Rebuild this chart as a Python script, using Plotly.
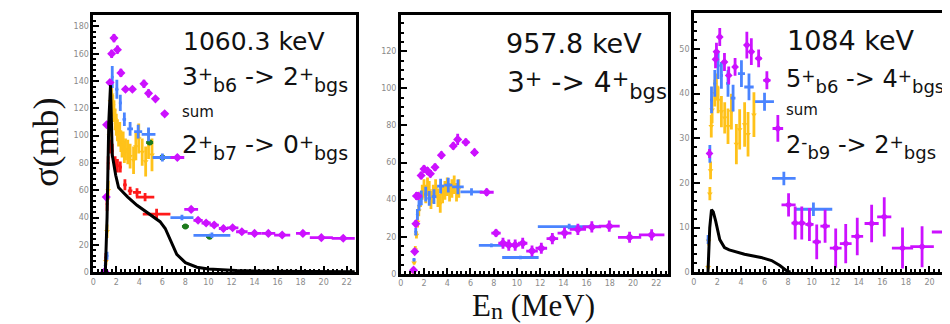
import plotly.graph_objects as go

W, H = 950, 324

# ---------------- Panel 1 : 1060.3 keV ----------------
p1_sum_x = [1.0, 1.13, 1.16, 1.45, 1.6, 1.8, 2.1, 2.4, 2.8, 3.4, 4.4, 4.8, 5.4, 6.2, 7.3, 8.5, 9.1, 9.8, 10.5, 11.3, 12.1, 12.9, 14.0, 15.2, 16.4, 18.2, 19.8, 21.7]
p1_sum_y = [0.5, 55, 108, 139, 160, 171.5, 163, 146, 134, 134, 138, 131, 127, 116, 84, 46, 38, 36, 34.5, 32, 32.5, 29.6, 28.4, 28.4, 27.2, 28.4, 25.3, 24.8]
p1_sum_xe = [0.02, 0.02, 0.02, 0.05, 0.05, 0.05, 0.1, 0.1, 0.15, 0.2, 0.15, 0.15, 0.2, 0.3, 0.6, 0.6, 0.4, 0.4, 0.4, 0.4, 0.5, 0.5, 0.6, 0.6, 0.7, 0.6, 1.0, 1.0]
p1_sum_ye = [1, 2, 2, 2, 3, 3, 3, 3, 2, 2, 3, 3, 2, 2, 2, 2, 2, 2, 2, 2, 2, 2, 2, 2, 2, 2, 2, 2]

p1_red_x = [1.1, 1.2, 1.3, 1.45, 1.65, 1.9, 2.1, 2.35, 2.75, 3.2, 3.8, 4.5, 5.5]
p1_red_y = [11, 50, 80, 92, 89, 80, 78, 77, 64, 59.5, 58.5, 55, 42.5]
p1_red_xe = [0.03, 0.03, 0.03, 0.05, 0.05, 0.08, 0.1, 0.12, 0.15, 0.2, 0.35, 0.8, 1.2]
p1_red_ye = [3, 5, 5, 5, 5, 5, 5, 4, 4, 3, 3, 3, 4]

p1_blue_x = [1.05, 1.2, 1.65, 2.05, 2.35, 2.7, 3.2, 3.9, 4.8, 6.0, 7.7, 10.3]
p1_blue_y = [5, 12, 143, 134, 124, 112, 105, 103, 101, 84, 40, 27]
p1_blue_xe = [0.02, 0.02, 0.08, 0.12, 0.12, 0.15, 0.25, 0.35, 0.6, 0.85, 1.0, 1.6]
p1_blue_ye = [2, 3, 8, 7, 6, 5, 5, 5, 5, 3, 2, 2]

p1_yel_x = [1.1, 1.2, 1.3, 1.4, 1.5, 1.6, 1.7, 1.8, 1.9, 2.0, 2.1, 2.2, 2.3, 2.4, 2.5, 2.6, 2.7, 2.8, 3.0, 3.2, 3.5, 3.7, 3.95, 4.25, 4.55, 4.8, 5.1]
p1_yel_y = [8, 30, 60, 100, 125, 130, 122, 118, 112, 108, 104, 100, 102, 96, 92, 95, 88, 90, 88, 85, 82, 92, 98, 88, 81, 94, 86]
p1_yel_ye = [3, 5, 7, 8, 8, 8, 8, 8, 8, 8, 8, 8, 8, 8, 8, 8, 8, 8, 9, 9, 10, 10, 11, 10, 11, 11, 12]

p1_grn_x = [4.9, 6.0, 8.0, 10.1]
p1_grn_y = [95, 84, 33.5, 26]

p1_line_x = [1.0, 1.05, 1.2, 1.35, 1.5, 1.65, 1.95, 2.2, 2.65, 3.0, 3.8, 5.0, 5.8, 6.25, 6.7, 7.25, 8.0, 9.0, 10.0, 12.4, 15.3, 22.7]
p1_line_y = [0, 0, 40, 110, 137, 86, 71, 62, 58, 55, 49, 42, 37, 32, 23, 13, 7, 3.6, 2.4, 1.2, 0.7, 0.3]

# ---------------- Panel 2 : 957.8 keV ----------------
p2_sum_x = [1.1, 1.2, 1.3, 1.35, 1.5, 1.75, 2.0, 2.3, 2.55, 2.95, 3.5, 4.52, 4.9, 5.6, 6.35, 7.4, 8.2, 8.8, 9.3, 9.85, 10.5, 11.3, 12.1, 13.05, 14.1, 15.25, 16.45, 17.95, 19.7, 21.6]
p2_sum_y = [2, 12, 27, 42, 42, 53, 56.5, 55.5, 54, 57.5, 64, 69, 72.5, 71, 65.5, 44, 22, 16.5, 15.5, 15.5, 16.5, 12.3, 13.8, 19, 22, 24, 25.3, 25.7, 19.7, 21]
p2_sum_xe = [0.02, 0.02, 0.02, 0.02, 0.05, 0.05, 0.1, 0.1, 0.1, 0.15, 0.2, 0.15, 0.15, 0.3, 0.3, 0.6, 0.4, 0.4, 0.4, 0.4, 0.4, 0.5, 0.5, 0.5, 0.6, 0.7, 0.8, 0.9, 1.0, 1.1]
p2_sum_ye = [1, 1, 2, 2, 2, 2, 2, 2, 2, 2, 2, 2, 3, 2, 2, 2, 2, 3, 3, 3, 3, 3, 3, 3, 3, 3, 3, 3, 3, 3]

p2_blue_x = [1.14, 1.29, 1.43, 1.57, 1.77, 2.15, 2.45, 2.86, 3.43, 4.09, 4.92, 6.09, 7.8, 10.3, 14.5]
p2_blue_y = [7.6, 22.7, 32, 37, 41, 43, 40.7, 41.6, 47.3, 47.8, 46.9, 44.2, 15.4, 8.8, 25.5]
p2_blue_xe = [0.02, 0.02, 0.03, 0.05, 0.08, 0.12, 0.15, 0.2, 0.3, 0.35, 0.5, 0.95, 1.08, 1.57, 2.7]
p2_blue_ye = [1, 2, 3, 3, 4, 4, 4, 4, 4, 4, 4, 2, 1, 1, 1.5]

p2_yel_x = [1.05, 1.15, 1.25, 1.35, 1.45, 1.55, 1.7, 1.85, 2.0, 2.15, 2.3, 2.45, 2.6, 2.8, 3.0, 3.2, 3.4, 3.6, 3.8, 4.0, 4.2, 4.4, 4.6, 4.8, 5.0]
p2_yel_y = [1, 6, 13, 21, 28, 34, 40, 44, 46, 43, 47, 45, 40, 43, 46, 41, 38, 43, 45, 47, 44, 46, 48, 44, 46]
p2_yel_ye = [1, 1, 2, 2, 3, 3, 4, 4, 5, 5, 5, 5, 5, 5, 5, 5, 5, 5, 5, 5, 5, 5, 5, 5, 5]

# ---------------- Panel 3 : 1084 keV ----------------
p3_sum_x = [1.33, 1.84, 1.92, 2.2, 2.6, 2.96, 3.5, 4.5, 4.88, 5.5, 6.2, 7.13, 8.04, 8.6, 9.16, 9.81, 10.43, 11.14, 12.04, 12.89, 13.87, 15.09, 16.16, 17.71, 19.37, 21.3]
p3_sum_y = [26.6, 47.7, 49.4, 52.7, 47.1, 44.1, 46, 50.9, 49.4, 47.9, 43, 32.2, 15.1, 11, 11, 10.7, 6.8, 10.3, 5.4, 6.4, 8.0, 10.9, 12.4, 5.4, 5.7, 9.0]
p3_sum_xe = [0.02, 0.05, 0.05, 0.08, 0.1, 0.1, 0.15, 0.15, 0.15, 0.25, 0.3, 0.45, 0.6, 0.3, 0.3, 0.35, 0.35, 0.4, 0.5, 0.5, 0.5, 0.6, 0.6, 0.9, 1.0, 1.1]
p3_sum_ye = [1, 2, 2, 2, 2, 2, 2, 3, 3, 2, 2, 3, 2.6, 3.7, 3.7, 3.7, 3.9, 3.7, 4.4, 4.4, 4.2, 4.2, 4.4, 4.6, 4.6, 4.3]

p3_blue_x = [1.21, 1.36, 1.5, 1.78, 2.06, 2.34, 2.9, 3.33, 4.04, 4.68, 6.0, 7.64, 10.15]
p3_blue_y = [7.3, 26.5, 38.6, 42.3, 46.3, 44.1, 42.3, 39, 44.5, 41.5, 38.2, 21, 14.1]
p3_blue_xe = [0.02, 0.03, 0.05, 0.08, 0.1, 0.12, 0.15, 0.2, 0.3, 0.4, 0.8, 1.0, 1.6]
p3_blue_ye = [1, 2, 3, 3, 3, 3, 3, 3, 3, 3, 2, 1.5, 1.5]

p3_yel_x = [1.21, 1.25, 1.36, 1.42, 1.48, 1.55, 1.78, 1.92, 2.06, 2.34, 2.62, 2.9, 3.19, 3.61, 3.89, 4.31, 4.6, 5.1]
p3_yel_y = [1.1, 7, 17.6, 22.8, 32.7, 36.4, 40.1, 41.5, 38.6, 36, 34.6, 32.7, 36, 28.7, 32, 33.1, 30.9, 35.3]
p3_yel_ye = [0.5, 1, 1.5, 2, 2.5, 3, 3, 3, 3, 3.5, 3.5, 4, 4, 4.5, 4.5, 5, 5, 5]

p3_line_x = [1.2, 1.22, 1.35, 1.5, 1.65, 1.85, 2.2, 2.6, 3.0, 4.3, 5.7, 6.6, 7.3, 7.9, 8.2]
p3_line_y = [0, 2, 10, 14, 13.5, 11.5, 7.3, 5.5, 5.0, 4.0, 3.3, 2.6, 1.5, 0.3, 0]

MAG, BLU, YEL, RED, GRN = '#cc11ff', '#4a84ff', '#ffc21a', '#ff1a1a', '#1d7a1d'


def pts(x, y, xe, ye, color, ax, symbol='circle', size=4, th=2.8):
    return go.Scatter(
        x=x, y=y, mode='markers', xaxis='x' + ax, yaxis='y' + ax,
        marker=dict(color=color, symbol=symbol, size=size, line=dict(width=0)),
        error_x=dict(type='data', array=xe, color=color, thickness=th, width=0),
        error_y=dict(type='data', array=ye, color=color, thickness=th, width=0),
        showlegend=False, hoverinfo='skip')


def small(n, v=0.03):
    return [v] * n


fig = go.Figure()
# panel 1
fig.add_trace(pts(p1_yel_x, p1_yel_y, small(len(p1_yel_x)), p1_yel_ye, YEL, '', 'triangle-down', 5))
fig.add_trace(pts(p1_red_x, p1_red_y, p1_red_xe, p1_red_ye, RED, '', 'circle', 3))
fig.add_trace(pts(p1_grn_x, p1_grn_y, small(len(p1_grn_x), 0.3), small(len(p1_grn_x), 1), GRN, '', 'circle', 6))
fig.add_trace(pts(p1_blue_x, p1_blue_y, p1_blue_xe, p1_blue_ye, BLU, '', 'circle', 3))
fig.add_trace(pts(p1_sum_x, p1_sum_y, p1_sum_xe, p1_sum_ye, MAG, '', 'diamond', 7))
fig.add_trace(go.Scatter(x=p1_line_x, y=p1_line_y, mode='lines', xaxis='x', yaxis='y',
                         line=dict(color='black', width=3), showlegend=False, hoverinfo='skip'))
# panel 2
fig.add_trace(pts(p2_yel_x, p2_yel_y, small(len(p2_yel_x)), p2_yel_ye, YEL, '2', 'triangle-down', 5))
fig.add_trace(pts(p2_blue_x, p2_blue_y, p2_blue_xe, p2_blue_ye, BLU, '2', 'circle', 3))
fig.add_trace(pts(p2_sum_x, p2_sum_y, p2_sum_xe, p2_sum_ye, MAG, '2', 'diamond', 7))
# panel 3
fig.add_trace(pts(p3_yel_x, p3_yel_y, small(len(p3_yel_x)), p3_yel_ye, YEL, '3', 'triangle-down', 5))
fig.add_trace(pts(p3_blue_x, p3_blue_y, p3_blue_xe, p3_blue_ye, BLU, '3', 'circle', 3))
fig.add_trace(pts(p3_sum_x, p3_sum_y, p3_sum_xe, p3_sum_ye, MAG, '3', 'diamond', 6))
fig.add_trace(go.Scatter(x=p3_line_x, y=p3_line_y, mode='lines', xaxis='x3', yaxis='y3',
                         line=dict(color='black', width=3), showlegend=False, hoverinfo='skip'))

tickfont = dict(family='DejaVu Sans', size=8, color='#8a8a8a')


def xax(dom, rng, anchor):
    return dict(domain=dom, range=rng, anchor=anchor, showgrid=False, zeroline=False,
                showline=True, linecolor='black', linewidth=2.5, mirror=True,
                ticks='inside', ticklen=6, tickwidth=1.5, tickcolor='black',
                tick0=0, dtick=2, tickfont=tickfont,
                minor=dict(ticks='inside', ticklen=3, tickwidth=1.5, tickcolor='black', dtick=0.4))


def yax(dom, rng, anchor, dt, mdt, mirror=True):
    return dict(domain=dom, range=rng, anchor=anchor, showgrid=False, zeroline=False,
                showline=True, linecolor='black', linewidth=2.5, mirror=mirror,
                ticks='inside', ticklen=6, tickwidth=1.5, tickcolor='black',
                tick0=0, dtick=dt, tickfont=tickfont,
                minor=dict(ticks='inside', ticklen=3, tickwidth=1.5, tickcolor='black', dtick=mdt))


def px(x):
    return x / W


def py(y):
    return 1 - y / H


fig.update_layout(
    width=W, height=H, margin=dict(l=0, r=0, t=0, b=0),
    paper_bgcolor='white', plot_bgcolor='white',
    xaxis=xax([px(82.5), px(346)], [0, 22.8], 'y'),
    yaxis=yax([py(268.3), py(7)], [0, 188.5], 'x', 20, 4),
    xaxis2=xax([px(391), px(659)], [0, 23.0], 'y2'),
    yaxis2=yax([py(270), py(6.7)], [0, 139.8], 'x2', 20, 5),
    xaxis3=xax([px(685), 1.0], [0, 22.42], 'y3'),
    yaxis3=yax([py(268.3), py(5)], [0, 58.1], 'x3', 10, 2, mirror=False),
)

TF = 'DejaVu Sans'


def ann(x, y, text, size, family=TF, xanchor='left', yanchor='middle', angle=0):
    fig.add_annotation(x=px(x), y=py(y), xref='paper', yref='paper', text=text,
                       showarrow=False, xanchor=xanchor, yanchor=yanchor, textangle=angle,
                       font=dict(family=family, size=size, color='#111111'))


def sup(t, s):
    return '<span style="font-size:%dpx;baseline-shift:%dpx">%s</span>' % (s, round(s * 0.3), t)


def sub(t, s):
    return '<span style="font-size:%dpx;baseline-shift:-%dpx">%s</span>' % (s, round(s * 0.35), t)


def trans(a, sa, sb, b, sc, sd, ss=18, sb_=19):
    txt = a + sup(sa, ss)
    if sb:
        txt += sub(sb, sb_)
    txt += ' -&gt; ' + b + sup(sc, ss) + sub(sd, sb_)
    return txt


# panel 1 labels
ann(171, 34, '1060.3 keV', 25)
ann(170, 72, trans('3', '+', 'b6', '2', '+', 'bgs'), 25)
ann(170, 106, 'sum', 15)
ann(170, 141, trans('2', '+', 'b7', '0', '+', 'bgs'), 25)
# panel 2 labels
ann(495, 36, '957.8 keV', 27)
ann(496, 78, trans('3', '+', '', '4', '+', 'bgs', ss=21, sb_=21), 28)
# panel 3 labels
ann(776, 33, '1084 keV', 27)
ann(775, 74, trans('5', '+', 'b6', '4', '+', 'bgs', ss=17, sb_=18), 24)
ann(775, 104, 'sum', 15)
ann(775, 141, trans('2', '-', 'b9', '2', '+', 'bgs', ss=17, sb_=18), 24)

# axis titles
ann(35, 136, 'σ(mb)', 36, family='Liberation Serif', xanchor='center', angle=-90)
ann(524, 303, 'E<span style="font-size:24px;baseline-shift:-3px">n</span> (MeV)', 31,
    family='Liberation Serif', xanchor='center')

fig.write_html('out.html')
